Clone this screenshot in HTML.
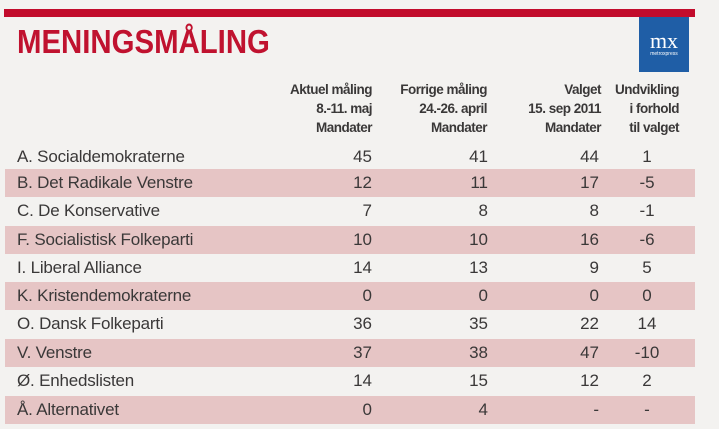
<!DOCTYPE html>
<html><head><meta charset="utf-8"><style>
body{margin:0;width:719px;height:429px;background:#f3f2f0;position:relative;overflow:hidden;font-family:"Liberation Sans",sans-serif;color:#3a3838}
.bar{position:absolute;left:4px;top:9px;width:691px;height:8px;background:#c20c2c}
.title{position:absolute;left:17px;top:23px;font-weight:bold;font-size:33px;color:#c0122f;transform:scaleX(0.89);transform-origin:left top;white-space:nowrap}
.logo{position:absolute;left:639px;top:17px;width:50px;height:55px;background:#1f5ea6;color:#fff;text-align:center}
.logo b{display:block;font-family:"Liberation Serif",serif;font-weight:normal;font-size:22px;margin-top:14px;line-height:20px}
.logo i{display:block;font-style:normal;font-size:5px}
.h{position:absolute;top:80px;font-weight:bold;font-size:13.5px;line-height:19px;text-align:right;color:#3a3838;letter-spacing:-0.5px}
.row{position:absolute;left:5px;width:690px;height:28px;font-size:17px;line-height:28px}
.p{background:#e6c5c5}
.row span{position:absolute;top:0}
.n{left:12px;letter-spacing:-0.2px}
.c1{right:323px}.c2{right:207px}.c3{right:96px}.c4{left:622px;width:40px;text-align:center}
</style></head><body>
<div class="bar"></div>
<div class="title">MENINGSMÅLING</div>
<div class="logo"><b>mx</b><i>metroxpress</i></div>
<div class="h" style="right:347px">Aktuel måling<br>8.-11. maj<br>Mandater</div>
<div class="h" style="right:232px">Forrige måling<br>24.-26. april<br>Mandater</div>
<div class="h" style="right:118px">Valget<br>15. sep 2011<br>Mandater</div>
<div class="h" style="right:40px">Undvikling<br>i forhold<br>til valget</div>

<div class="row" style="top:143px"><span class="n">A. Socialdemokraterne</span><span class="c1">45</span><span class="c2">41</span><span class="c3">44</span><span class="c4">1</span></div>
<div class="row p" style="top:169px"><span class="n">B. Det Radikale Venstre</span><span class="c1">12</span><span class="c2">11</span><span class="c3">17</span><span class="c4">-5</span></div>
<div class="row" style="top:197px"><span class="n">C. De Konservative</span><span class="c1">7</span><span class="c2">8</span><span class="c3">8</span><span class="c4">-1</span></div>
<div class="row p" style="top:226px"><span class="n">F. Socialistisk Folkeparti</span><span class="c1">10</span><span class="c2">10</span><span class="c3">16</span><span class="c4">-6</span></div>
<div class="row" style="top:254px"><span class="n">I. Liberal Alliance</span><span class="c1">14</span><span class="c2">13</span><span class="c3">9</span><span class="c4">5</span></div>
<div class="row p" style="top:282px"><span class="n">K. Kristendemokraterne</span><span class="c1">0</span><span class="c2">0</span><span class="c3">0</span><span class="c4">0</span></div>
<div class="row" style="top:310px"><span class="n">O. Dansk Folkeparti</span><span class="c1">36</span><span class="c2">35</span><span class="c3">22</span><span class="c4">14</span></div>
<div class="row p" style="top:339px"><span class="n">V. Venstre</span><span class="c1">37</span><span class="c2">38</span><span class="c3">47</span><span class="c4">-10</span></div>
<div class="row" style="top:367px"><span class="n">Ø. Enhedslisten</span><span class="c1">14</span><span class="c2">15</span><span class="c3">12</span><span class="c4">2</span></div>
<div class="row p" style="top:396px"><span class="n">Å. Alternativet</span><span class="c1">0</span><span class="c2">4</span><span class="c3">-</span><span class="c4">-</span></div>
</body></html>
